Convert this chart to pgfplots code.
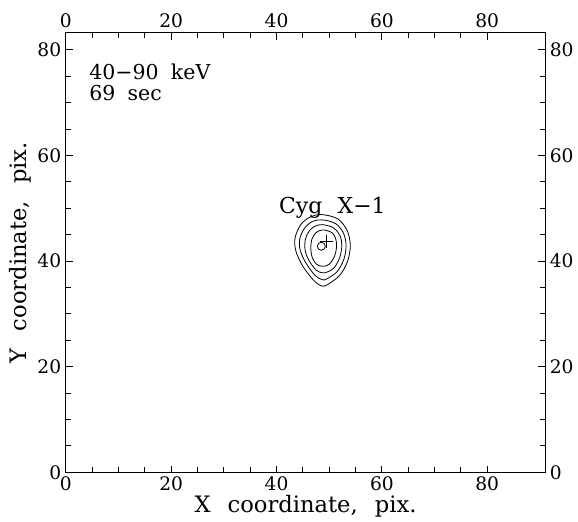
\documentclass[border=0pt]{standalone}
\usepackage{fontspec}
\setmainfont{DejaVu Serif}
\usepackage{pgfplots}
\pgfplotsset{compat=1.18}
\newcommand{\gap}{\hspace{0.75em}}
\begin{document}
\begin{tikzpicture}
\pgfplotsset{
  frame/.style={
    scale only axis, width=360pt, height=330pt,
    xmin=0, xmax=91, ymin=0, ymax=83.2,
    xtick={0,20,...,80}, ytick={0,20,...,80},
    minor tick num=3,
    tick align=inside,
    major tick length=5pt, minor tick length=4pt,
    every tick/.style={black, line width=0.6pt},
    /pgf/number format/assume math mode=true,
    ticklabel style={font=\fontsize{14}{16}\selectfont},
    axis line style={line width=0.7pt},
  }
}
% top and right tick labels
\begin{axis}[frame, xticklabel pos=upper, yticklabel pos=right]
\end{axis}
\begin{axis}[frame, name=main,
  xlabel={X\gap coordinate,\gap pix.},
  ylabel={Y\gap coordinate,\gap pix.},
  label style={font=\fontsize{17}{20}\selectfont},
  xlabel style={at={(axis description cs:0.5,-0.077)}, anchor=center},
  ylabel style={at={(axis description cs:-0.096,0.5)}, anchor=center},
]
% contours, outer to inner
\addplot[black, line width=0.6pt, smooth cycle, tension=0.55] coordinates {
  (48.6,48.8) (51.6,48.0) (53.4,45.8) (54.0,43.0) (53.5,40.0) (52.0,37.3)
  (49.6,35.5) (48.5,35.3) (47.0,36.4) (45.0,39.0) (43.7,41.8) (43.5,44.3)
  (44.6,46.9) (46.5,48.4)
};
\addplot[black, line width=0.6pt, smooth cycle, tension=0.55] coordinates {
  (48.7,47.8) (51.2,47.1) (52.7,45.3) (53.2,43.0) (52.8,40.4) (51.5,38.0)
  (49.5,36.6) (48.6,36.5) (47.3,37.3) (45.6,39.6) (44.5,42.0) (44.4,44.2)
  (45.3,46.2) (46.8,47.5)
};
\addplot[black, line width=0.6pt, smooth cycle, tension=0.55] coordinates {
  (48.7,46.9) (50.8,46.3) (52.0,44.9) (52.4,43.0) (52.0,40.7) (50.9,38.7)
  (49.3,37.8) (48.6,37.8) (47.5,38.3) (46.1,40.2) (45.4,42.2) (45.5,44.2)
  (46.2,45.7) (47.3,46.6)
};
\addplot[black, line width=0.6pt, smooth cycle, tension=0.55] coordinates {
  (48.8,45.9) (50.5,45.4) (51.2,44.3) (51.4,42.8) (51.0,40.9) (50.0,39.4)
  (48.8,39.0) (47.6,39.4) (46.8,40.6) (46.5,42.3) (46.7,44.1) (47.5,45.4)
};
% source position and catalogue position
\addplot[black, only marks, mark=o, mark size=3pt, mark options={line width=0.6pt}]
  coordinates {(48.5,42.8)};
\addplot[black, only marks, mark=+, mark size=5pt, mark options={line width=0.6pt}]
  coordinates {(49.5,43.7)};
\node[font=\fontsize{16.5}{19}\selectfont] at (axis cs:50.6,50.1) {Cyg\hspace{0.7em}X−1};
\node[anchor=west, inner sep=0pt, font=\fontsize{15.4}{18}\selectfont] at (axis cs:4.4,75.8) {40−90\hspace{0.6em}keV};
\node[anchor=west, inner sep=0pt, font=\fontsize{15.4}{18}\selectfont] at (axis cs:4.4,71.8) {69\hspace{0.6em}sec};
\end{axis}
% page margins as in the reference
\path ([xshift=-49.5pt,yshift=-33.75pt]main.south west) rectangle ([xshift=24pt,yshift=24.75pt]main.north east);
\end{tikzpicture}
\end{document}
